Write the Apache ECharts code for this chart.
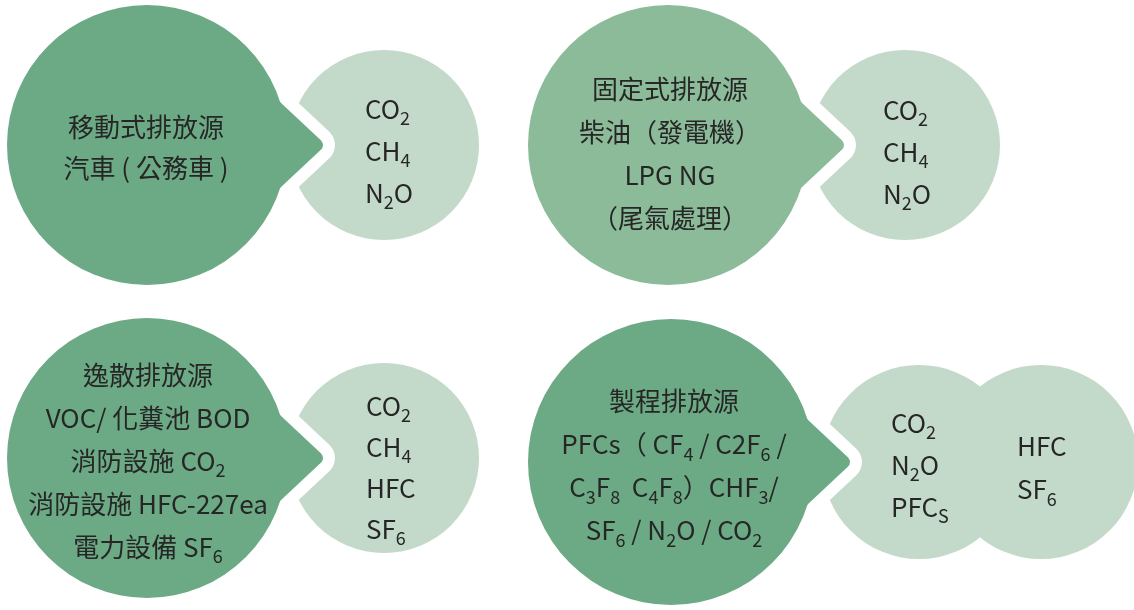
<!DOCTYPE html>
<html>
<head>
<meta charset="utf-8">
<script src="https://cdn.jsdelivr.net/npm/echarts@6/dist/echarts.min.js"></script>
<style>
  html, body { margin: 0; padding: 0; background: #fff; }
  #chart { width: 1134px; height: 610px; }
</style>
</head>
<body>
<div id="chart"></div>
<script>
// 排放源 (dark bubble) text, one array per source
const sourceMobile = ['移動式排放源', '汽車 ( 公務車 )'];
const sourceStationary = ['固定式排放源', '柴油（發電機）', 'LPG NG', '（尾氣處理）'];
const sourceFugitive = ['逸散排放源', 'VOC/ 化糞池 BOD', '消防設施 CO{s|2}', '消防設施 HFC-227ea', '電力設備 SF{s|6}'];
const sourceProcess = ['製程排放源', 'PFCs（ CF{s|4} / C2F{s|6} /', 'C{s|3}F{s|8}  C{s|4}F{s|8}）CHF{s|3}/', 'SF{s|6} / N{s|2}O / CO{s|2}'];

// gases (light bubble)
const gasMobile = ['CO{s|2}', 'CH{s|4}', 'N{s|2}O'];
const gasStationary = ['CO{s|2}', 'CH{s|4}', 'N{s|2}O'];
const gasFugitive = ['CO{s|2}', 'CH{s|4}', 'HFC', 'SF{s|6}'];
const gasProcessA = ['CO{s|2}', 'N{s|2}O', 'PFC{s|S}'];
const gasProcessB = ['HFC', 'SF{s|6}'];

// layout: [cx, cy, r, colour index]
const darkCircles = [
  [147, 145, 140, 0],
  [668, 145, 140, 1],
  [147, 458, 140, 0],
  [671, 462, 143, 0]
];
const lightCircles = [
  [384, 145, 95],
  [905, 145, 95],
  [384, 458, 95],
  [919, 462, 97],
  [1041, 462, 97]
];
const darkColors = ['#6caa85', '#8bbb99'];
const lightColor = '#c3d9c9';
const textColor = '#262626';

// text anchors
const textItems = [
  { pos: [146, 148], align: 'center', lines: sourceMobile, lh: 41 },
  { pos: [670, 154], align: 'center', lines: sourceStationary, lh: 43 },
  { pos: [148, 461], align: 'center', lines: sourceFugitive, lh: 43 },
  { pos: [674, 466], align: 'center', lines: sourceProcess, lh: 43 },
  { pos: [365, 151], align: 'left', lines: gasMobile, lh: 42 },
  { pos: [883, 152], align: 'left', lines: gasStationary, lh: 42 },
  { pos: [366, 468], align: 'left', lines: gasFugitive, lh: 41 },
  { pos: [891, 465], align: 'left', lines: gasProcessA, lh: 42 },
  { pos: [1017, 468], align: 'left', lines: gasProcessB, lh: 43 }
];

const chart = echarts.init(document.getElementById('chart'));

function circleItem(params, api, color) {
  const c = api.coord([api.value(0), api.value(1)]);
  const r = api.size([api.value(2), 0])[0];
  return { type: 'circle', shape: { cx: c[0], cy: c[1], r: r }, style: { fill: color } };
}

const option = {
  animation: false,
  grid: { left: 0, right: 0, top: 0, bottom: 0 },
  xAxis: { type: 'value', min: 0, max: 1134, show: false },
  yAxis: { type: 'value', min: 0, max: 610, inverse: true, show: false },
  series: [
    {
      type: 'custom',
      z: 1,
      data: lightCircles,
      renderItem: (params, api) => circleItem(params, api, lightColor)
    },
    {
      // speech bubble tails, white outline cuts the notch
      type: 'custom',
      z: 2,
      data: darkCircles,
      renderItem: (params, api) => {
        const c = api.coord([api.value(0), api.value(1)]);
        const k = api.size([1, 0])[0];
        const r = api.value(2);
        const color = darkColors[api.value(3)];
        const pts = [
          [c[0] + k * (r + 30), c[1]],
          [c[0] + k * (r - 49), c[1] - k * 74],
          [c[0] + k * (r - 49), c[1] + k * 74]
        ];
        return {
          type: 'group',
          children: [
            { type: 'polygon', shape: { points: pts }, style: { fill: '#fff', stroke: '#fff', lineWidth: 36 * k, lineJoin: 'round' } },
            { type: 'polygon', shape: { points: pts }, style: { fill: color, stroke: color, lineWidth: 12 * k, lineJoin: 'round' } }
          ]
        };
      }
    },
    {
      type: 'custom',
      z: 3,
      data: darkCircles,
      renderItem: (params, api) => circleItem(params, api, darkColors[api.value(3)])
    },
    {
      type: 'custom',
      z: 4,
      data: textItems.map(t => t.pos),
      renderItem: (params, api) => {
        const t = textItems[params.dataIndex];
        const c = api.coord([api.value(0), api.value(1)]);
        return {
          type: 'text',
          x: c[0],
          y: c[1],
          style: {
            text: t.lines.join('\n'),
            fill: textColor,
            fontSize: 26,
            fontFamily: '"Noto Sans CJK TC", "Noto Sans", sans-serif',
            lineHeight: t.lh,
            align: t.align,
            verticalAlign: 'middle',
            rich: {
              s: {
                fontSize: 18,
                fontFamily: '"Noto Sans CJK TC", "Noto Sans", sans-serif',
                fill: textColor,
                verticalAlign: 'bottom',
                padding: [0, 0, 3, 0]
              }
            }
          }
        };
      }
    }
  ]
};

chart.setOption(option);
</script>
</body>
</html>
